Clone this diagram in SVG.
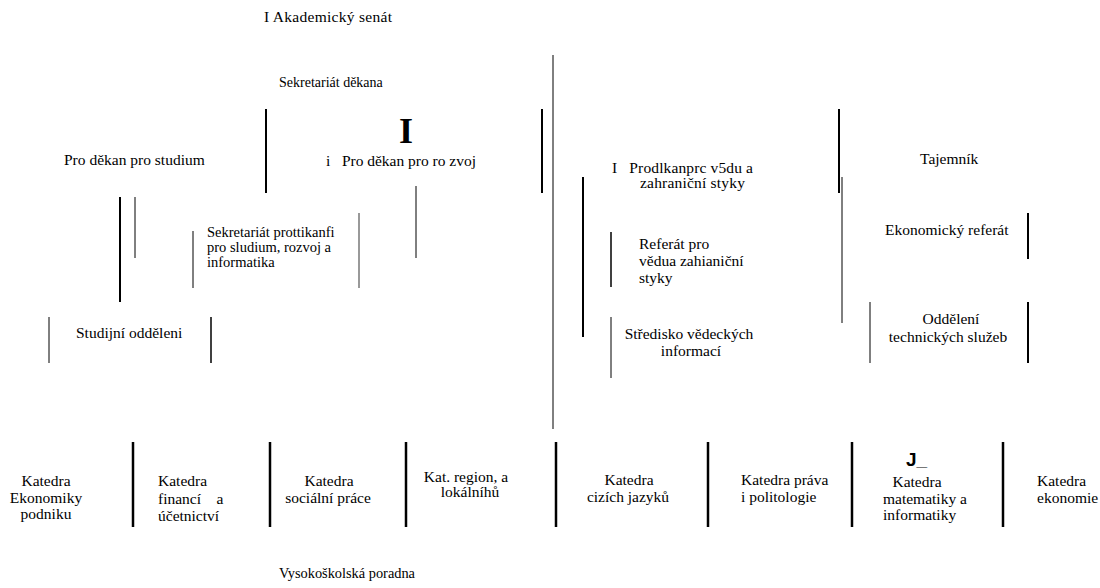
<svg xmlns="http://www.w3.org/2000/svg" width="1100" height="588" viewBox="0 0 1100 588">
<style>
text{font-family:"Liberation Serif","Times New Roman",serif;font-size:15.5px;fill:#000}
.sm{font-size:14px}
.s145{font-size:14.5px}
.big{font-size:36px;font-weight:bold}
.sans{font-family:"Liberation Sans",Arial,sans-serif;font-size:19px;font-weight:bold}
line{stroke:#000;stroke-width:1}
.t2{stroke-width:2}
.t25{stroke-width:2.5}
.t15{stroke-width:1.5}
.gray{stroke:#777;stroke-width:1.5}
</style>
<rect width="1100" height="588" fill="#fff"/>
<g id="connectors">
<line x1="553" y1="55" x2="553" y2="429"/>
<line class="t2" x1="266" y1="109" x2="266" y2="193"/>
<line class="t2" x1="542" y1="109" x2="542" y2="193"/>
<line x1="416" y1="186" x2="416" y2="258"/>
<line class="t2" x1="120" y1="197" x2="120" y2="302"/>
<line x1="135" y1="197" x2="135" y2="258"/>
<line x1="193" y1="231" x2="193" y2="288"/>
<line class="gray" x1="359" y1="213" x2="359" y2="288"/>
<line x1="49" y1="317" x2="49" y2="363"/>
<line class="t15" x1="211" y1="317" x2="211" y2="363"/>
<line class="t2" x1="583" y1="177" x2="583" y2="337"/>
<line class="t2" x1="839" y1="109" x2="839" y2="193"/>
<line x1="842" y1="177" x2="842" y2="323"/>
<line class="t15" x1="611" y1="232" x2="611" y2="287"/>
<line x1="611" y1="317" x2="611" y2="378"/>
<line class="t2" x1="1028" y1="213" x2="1028" y2="259"/>
<line x1="870" y1="302" x2="870" y2="363"/>
<line class="t2" x1="1028" y1="302" x2="1028" y2="363"/>
<line class="t25" x1="133" y1="442" x2="133" y2="527"/>
<line class="t25" x1="270" y1="442" x2="270" y2="527"/>
<line class="t25" x1="406" y1="442" x2="406" y2="527"/>
<line class="t25" x1="556" y1="442" x2="556" y2="527"/>
<line class="t25" x1="708" y1="442" x2="708" y2="527"/>
<line class="t25" x1="852" y1="442" x2="852" y2="527"/>
<line class="t25" x1="1003" y1="442" x2="1003" y2="527"/>
</g>
<g id="akademicky-senat"><text x="264" y="22" textLength="128" lengthAdjust="spacing">I Akademický senát</text></g>
<g id="sekretariat-dekana"><text class="sm" x="279" y="87">Sekretariát děkana</text></g>
<g id="prodekan-studium"><text x="64" y="165">Pro děkan pro studium</text></g>
<g id="prodekan-rozvoj">
<text class="big" x="406" y="143" text-anchor="middle">I</text>
<text x="326" y="166" xml:space="preserve" textLength="150" lengthAdjust="spacing">i   Pro děkan pro ro zvoj</text>
</g>
<g id="prodekan-veda">
<text x="612" y="173" xml:space="preserve" textLength="141" lengthAdjust="spacing">I   Prodlkanprc v5du a</text>
<text x="640" y="188" textLength="105" lengthAdjust="spacing">zahraniční styky</text>
</g>
<g id="tajemnik"><text x="920" y="164">Tajemník</text></g>
<g id="sekretariat-prodekanu">
<text class="s145" x="207" y="237">Sekretariát prottikanfi</text>
<text class="s145" x="207" y="252">pro sludium, rozvoj a</text>
<text class="s145" x="207" y="267">informatika</text>
</g>
<g id="studijni-oddeleni"><text x="76" y="338">Studijní odděleni</text></g>
<g id="referat-veda">
<text x="639" y="249">Referát pro</text>
<text x="639" y="266">vědua zahianiční</text>
<text x="639" y="283">styky</text>
</g>
<g id="stredisko">
<text x="689" y="339" text-anchor="middle">Středisko vědeckých</text>
<text x="691" y="356" text-anchor="middle">informací</text>
</g>
<g id="ekonomicky-referat"><text x="885" y="235">Ekonomický referát</text></g>
<g id="technicke-sluzby">
<text x="951" y="324" text-anchor="middle">Oddělení</text>
<text x="948" y="342" text-anchor="middle">technických služeb</text>
</g>
<g id="k-ekonomiky-podniku">
<text x="46" y="486" text-anchor="middle">Katedra</text>
<text x="46" y="503" text-anchor="middle">Ekonomiky</text>
<text x="46" y="519" text-anchor="middle">podniku</text>
</g>
<g id="k-financi">
<text x="158" y="486">Katedra</text>
<text x="158" y="504" xml:space="preserve">financí    a</text>
<text x="158" y="521">účetnictví</text>
</g>
<g id="k-socialni-prace">
<text x="329" y="486" text-anchor="middle">Katedra</text>
<text x="328" y="503" text-anchor="middle">sociální práce</text>
</g>
<g id="k-region">
<text x="466" y="482" text-anchor="middle">Kat. region, a</text>
<text x="470" y="497" text-anchor="middle">lokálníhů</text>
</g>
<g id="k-cizich-jazyku">
<text x="629" y="485" text-anchor="middle">Katedra</text>
<text x="628" y="502" text-anchor="middle">cizích jazyků</text>
</g>
<g id="k-prava">
<text x="741" y="485">Katedra práva</text>
<text x="741" y="502">i politologie</text>
</g>
<g id="k-matematiky">
<text class="sans" x="906" y="466">J_</text>
<text x="917" y="487" text-anchor="middle">Katedra</text>
<text x="883" y="504">matematiky a</text>
<text x="883" y="520">informatiky</text>
</g>
<g id="k-ekonomie">
<text x="1037" y="486">Katedra</text>
<text x="1037" y="503">ekonomie</text>
</g>
<g id="poradna"><text x="279" y="578" textLength="136" lengthAdjust="spacingAndGlyphs">Vysokoškolská poradna</text></g>
</svg>
